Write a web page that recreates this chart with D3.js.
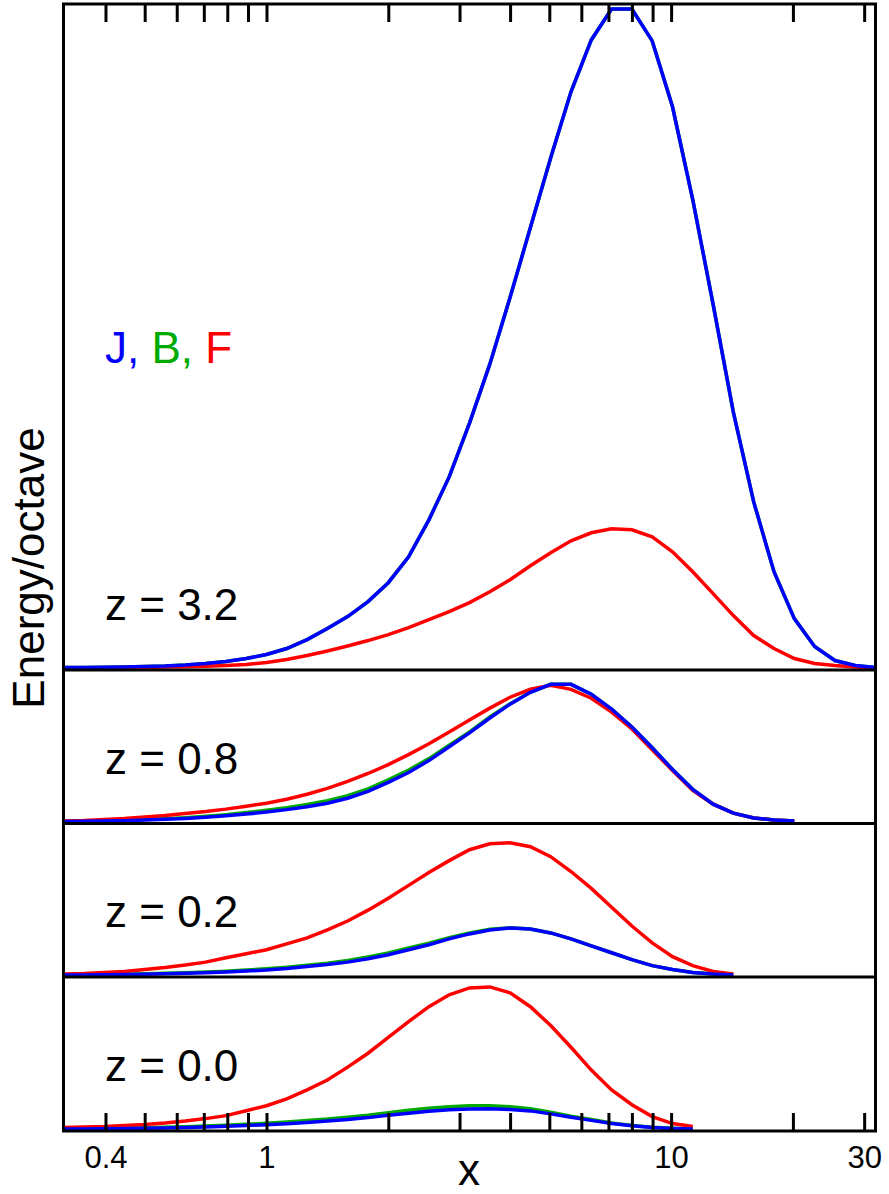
<!DOCTYPE html>
<html lang="en">
<head>
    <meta charset="UTF-8">
    <title>Energy per octave vs x</title>
    <style>
        body { margin: 0; background: #fff; }
        svg { display: block; font-family: "Liberation Sans", Arial, sans-serif; }
        .curve { fill: none; stroke-width: 3.5px; stroke-linejoin: miter; }
        .frame { fill: none; stroke: #000; stroke-width: 3px; }
        .axis line { stroke: #000; stroke-width: 3px; }
        .axis text { font-size: 31px; fill: #000; font-family: "Liberation Sans", Arial, sans-serif; }
    </style>
</head>
<body>
    <script src="https://d3js.org/d3.v7.min.js"></script>
    <script>
        // sample points, 1/6 octave apart
        const xGrid = [0.315, 0.354, 0.397, 0.445, 0.5, 0.561, 0.63, 0.707, 0.794, 0.891,
            1, 1.122, 1.26, 1.414, 1.587, 1.782, 2, 2.245, 2.52, 2.828,
            3.175, 3.564, 4, 4.49, 5.04, 5.657, 6.35, 7.127, 8, 8.98,
            10.08, 11.31, 12.7, 14.25, 16, 17.96, 20.16, 22.63, 25.4, 28.51, 32];

        // energy per octave (arbitrary units), one array per redshift and series
        const j32 = [1, 1, 1.2, 1.5, 2, 2.5, 3.5, 5, 7, 10, 14, 20, 29, 40, 52, 67, 86, 112, 149, 192,
            246, 305, 372, 442, 512, 578, 630, 661, 661, 629, 563, 470, 365, 257, 167, 97, 50, 22, 8, 3, 1];
        const b32 = j32.slice();
        const f32 = [0.5, 0.6, 0.7, 0.9, 1.1, 1.4, 1.7, 2.2, 3, 4, 6, 9, 13, 17.5, 22.5, 28, 34, 41, 49, 57,
            66, 77, 89, 103, 116, 128, 136, 140, 139, 132, 117, 97, 75, 53, 33, 20, 10, 5, 3, 1.5, 0.5];

        const j08 = [0.5, 0.7, 1, 1.3, 2, 2.7, 3.6, 4.8, 6.2, 8, 10, 12.5, 15.5, 19, 24, 31, 40, 50, 62, 76,
            90, 105, 119, 131, 139, 139, 129, 114, 96, 75, 53, 33, 18, 9, 4, 2, 1];
        const b08 = [0.6, 0.8, 1.2, 1.6, 2.4, 3.2, 4.3, 5.7, 7.4, 9.5, 11.8, 14.5, 17.8, 21.5, 26.5, 33.5, 42.5, 52.5, 64, 77.5,
            91, 106, 119.5, 131, 139, 139, 129, 114, 96, 75, 53, 33, 18, 9, 4, 2, 1];
        const f08 = [1, 1.5, 2.5, 3.5, 5, 6.5, 8.5, 10.5, 13, 16, 19, 23, 28, 34, 41, 49, 58, 68, 79, 91,
            103, 115, 126, 134, 138, 134, 125, 111, 94, 73, 52, 32, 18, 9, 4, 2, 1];

        const j02 = [0.5, 0.6, 0.8, 1, 1.3, 1.7, 2.2, 2.8, 3.5, 4.5, 5.5, 7, 9, 11, 13.5, 17, 21, 26, 31, 37,
            42, 46, 48, 47, 43, 37, 30, 23, 16, 10, 6, 3, 1.5, 0.5];
        const b02 = [0.6, 0.8, 1, 1.3, 1.7, 2.2, 2.8, 3.5, 4.4, 5.5, 6.7, 8.3, 10.3, 12.5, 15.2, 18.8, 22.8, 27.8, 32.6, 38.3,
            43, 46.6, 48.3, 47, 43, 37, 30, 23, 16, 10, 6, 3, 1.5, 0.5];
        const f02 = [1.5, 2, 3, 4, 6, 8, 10.5, 13.5, 18, 22, 26, 32, 38, 46, 55, 66, 78, 91, 104, 116,
            127, 133, 134, 130, 120, 105, 88, 69, 50, 33, 19, 10, 4, 1.5];

        const j00 = [0.4, 0.5, 0.7, 0.9, 1.2, 1.6, 2, 2.6, 3.2, 4, 4.9, 5.9, 7.1, 8.5, 10.2, 12, 14.3, 16.5, 18.5, 20,
            20.8, 21, 20.3, 18.8, 15.8, 12.3, 9.2, 6, 3.7, 2.1, 1.1, 0.4];
        const b00 = [0.5, 0.7, 1, 1.3, 1.7, 2.2, 2.8, 3.5, 4.3, 5.2, 6.3, 7.5, 9, 10.5, 12.5, 14.5, 17, 19.5, 21.5, 23,
            24, 24, 23, 21, 17.5, 13.5, 10, 6.5, 4, 2.3, 1.2, 0.5];
        const f00 = [2, 2.5, 3, 4, 5, 6.5, 8.5, 11, 14, 19, 24, 31, 40, 50, 63, 77, 93, 109, 124, 136,
            143, 144, 138, 124, 105, 83, 60, 40, 25, 13, 6, 3];

        const panelLabels = ["z = 3.2", "z = 0.8", "z = 0.2", "z = 0.0"];
        const panelMax = [666, 153.5, 153.5, 154];
        const panelSeries = [[b32, f32, j32], [b08, f08, j08], [b02, f02, j02], [b00, f00, j00]];
        const seriesNames = ["B", "F", "J"];
        const seriesColors = { J: "#0000ff", B: "#00aa00", F: "#ff0000" };

        const tickValues = [0.4, 0.5, 0.6, 0.7, 0.8, 0.9, 1, 2, 3, 4, 5, 6, 7, 8, 9, 10, 20, 30];
        const tickLabels = [0.4, 1, 10, 30];

        const W = 889, H = 1194;
        const plotLeft = 63.5, plotRight = 875.5, plotTop = 4, plotBottom = 1131;

        const svg = d3.select("body").append("svg")
            .attr("width", W)
            .attr("height", H);

        const x = d3.scaleLog().domain([xGrid[0], 32]).range([plotLeft, plotRight]);

        // panels stacked with a common vertical unit
        const unit = d3.scaleLinear().domain([0, d3.sum(panelMax)]).range([0, plotBottom - plotTop]);
        let cursor = plotTop;
        const panels = panelMax.map((m, i) => {
            const p = { y0: cursor, y1: cursor + unit(m), max: m, i: i };
            cursor = p.y1;
            return p;
        });

        panels.forEach(p => {
            const y = d3.scaleLinear().domain([0, p.max]).range([p.y1 - 1.5, p.y0]);
            const line = d3.line()
                .x((d, k) => x(xGrid[k]))
                .y(d => y(d));

            panelSeries[p.i].forEach((vals, s) => {
                svg.append("path")
                    .datum(vals)
                    .attr("class", "curve")
                    .attr("stroke", seriesColors[seriesNames[s]])
                    .attr("d", line);
            });

            svg.append("text")
                .attr("x", 105)
                .attr("y", p.y1 - 50)
                .attr("font-size", 44)
                .text(panelLabels[p.i]);
        });

        // panel separators
        panels.slice(1).forEach(p => {
            svg.append("line")
                .attr("x1", plotLeft).attr("x2", plotRight)
                .attr("y1", p.y0).attr("y2", p.y0)
                .attr("stroke", "#000")
                .attr("stroke-width", 3);
        });

        svg.append("rect")
            .attr("class", "frame")
            .attr("x", plotLeft).attr("y", plotTop)
            .attr("width", plotRight - plotLeft).attr("height", plotBottom - plotTop);

        svg.append("g")
            .attr("class", "axis")
            .attr("transform", `translate(0,${plotTop})`)
            .call(d3.axisTop(x).tickValues(tickValues).tickSize(-18).tickFormat(""))
            .call(g => g.select(".domain").remove());

        svg.append("g")
            .attr("class", "axis")
            .attr("transform", `translate(0,${plotBottom})`)
            .call(d3.axisBottom(x).tickValues(tickValues).tickSize(-18).tickPadding(15)
                .tickFormat(d => tickLabels.includes(d) ? d : ""))
            .call(g => g.select(".domain").remove());

        svg.append("text")
            .attr("x", 469)
            .attr("y", 1185)
            .attr("text-anchor", "middle")
            .attr("font-size", 44)
            .text("x");

        svg.append("text")
            .attr("transform", "translate(44,568) rotate(-90)")
            .attr("text-anchor", "middle")
            .attr("font-size", 44)
            .text("Energy/octave");

        const legend = svg.append("text")
            .attr("x", 105)
            .attr("y", 363)
            .attr("font-size", 44);
        legend.append("tspan").attr("fill", seriesColors.J).text("J, ");
        legend.append("tspan").attr("fill", seriesColors.B).text("B, ");
        legend.append("tspan").attr("fill", seriesColors.F).text("F");
    </script>
</body>
</html>
